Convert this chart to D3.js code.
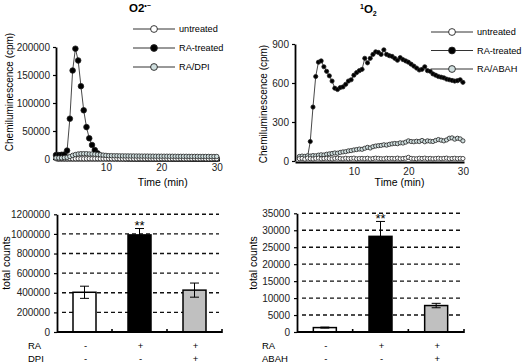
<!DOCTYPE html>
<html>
<head>
<meta charset="utf-8">
<script src="https://cdn.jsdelivr.net/npm/d3@7.9.0/dist/d3.min.js"></script>
<style>
body { margin: 0; background: #fff; }
svg { font-family: "Liberation Sans", Arial, sans-serif; }
</style>
</head>
<body>
<svg id="fig" width="523" height="364"></svg>
<script>
// ---- data ----
const seriesNames = ['untreated', 'RA-treated', 'RA/DPI'];
const seriesNames2 = ['untreated', 'RA-treated', 'RA/ABAH'];

// superoxide kinetics, every 0.5 min from 1 to 30 min
const o2Time = d3.range(1, 30.01, 0.5);
const o2Untreated = [600,500,600,500,400,600,500,500,600,500,400,500,600,500,500,600,500,400,500,600,
  500,500,600,400,500,500,600,500,500,400,600,500,500,600,500,400,500,500,600,500,
  500,400,600,500,500,600,500,500,400,500,600,500,500,600,400,500,500,600,500];
const o2RA = [7000,7000,7500,8000,15000,72000,158000,197000,176000,130000,87000,57000,37000,25000,16000,10000,6000,4000,3000,2000,
  1800,1600,1500,1400,1300,1200,1200,1100,1100,1000,1000,1000,900,900,900,900,800,800,800,800,
  800,800,700,700,700,700,700,700,700,600,600,600,600,600,600,600,600,600,600];
const o2DPI = [2000,2000,2000,2500,3000,4500,6500,8000,9000,9500,9500,9500,9000,9000,8500,8000,7500,7000,6500,6000,
  6000,5800,5800,5600,5600,5500,5500,5400,5400,5300,5300,5200,5200,5200,5100,5100,5000,5000,5000,5000,
  5000,4900,4900,4900,4800,4800,4800,4800,4700,4700,4700,4700,4600,4600,4600,4600,4500,4500,4500];

// singlet oxygen kinetics, every 0.5 min from 0 to 30 min
const sTime = d3.range(0, 30.01, 0.5);
const sUntreated = [18,20,15,22,18,16,20,22,17,19,21,18,16,20,22,19,17,21,18,20,
  22,17,19,20,18,21,16,19,22,20,18,17,21,19,20,18,22,17,19,21,
  28,20,18,17,21,19,22,18,20,17,19,21,18,20,22,17,19,21,18,20,19];
const sRA = [25,25,25,30,150,415,650,760,770,725,690,655,615,560,550,565,570,590,615,625,
  660,680,695,705,790,755,790,820,840,835,820,855,820,810,805,790,775,795,780,770,
  760,745,730,715,700,705,725,695,690,670,660,650,645,640,630,625,620,615,618,625,605];
const sABAH = [35,38,36,40,38,42,40,45,48,46,52,55,58,62,60,66,70,72,78,80,
  85,88,92,90,98,105,100,110,115,118,120,125,122,128,132,135,133,140,138,145,
  155,150,148,152,150,158,148,155,152,150,158,165,160,155,162,175,178,168,175,170,155];

// total counts (mean, error)
const o2Totals = [405000, 990000, 427000];
const o2Errors = [62000, 65000, 72000];
const sTotals = [1300, 28200, 7800];
const sErrors = [150, 4400, 650];

const raRow = ['-', '+', '+'];
const dpiRow = ['-', '-', '+'];
const abahRow = ['-', '-', '+'];

const o2YTicks = [0, 50000, 100000, 150000, 200000];
const sYTicks = [0, 300, 600, 900];
const timeTicks = [10, 20, 30];
const o2BarTicks = [0, 200000, 400000, 600000, 800000, 1000000, 1200000];
const sBarTicks = [0, 5000, 10000, 15000, 20000, 25000, 30000, 35000];

// ---- drawing ----
const svg = d3.select('#fig');
const markerFill = ['#ffffff', '#000000', '#cfdede'];
const barFill = ['#ffffff', '#000000', '#c0c0c0'];

function styleAxis(sel) {
    sel.select('.domain').attr('stroke', '#000').attr('stroke-width', 1.8);
    sel.selectAll('.tick line').attr('stroke', '#000').attr('stroke-width', 1.2);
    sel.selectAll('.tick text').attr('font-size', 10).attr('fill', '#222')
        .attr('font-family', '"Liberation Sans", Arial, sans-serif');
}

function drawKinetics(cfg) {
    const g = svg.append('g');
    const x = d3.scaleLinear().domain(cfg.xDomain).range(cfg.xRange);
    const y = d3.scaleLinear().domain(cfg.yDomain).range(cfg.yRange);

    g.append('g')
        .attr('transform', `translate(${cfg.xRange[0]},0)`)
        .call(d3.axisLeft(y).tickValues(cfg.yTicks).tickSize(3).tickSizeOuter(0).tickPadding(3).tickFormat(d3.format('d')))
        .call(styleAxis);

    g.append('g')
        .attr('transform', `translate(0,${cfg.axisY})`)
        .call(d3.axisBottom(x).tickValues(timeTicks).tickSize(0).tickSizeOuter(0).tickPadding(cfg.xPad))
        .call(styleAxis);

    const line = d3.line().x((d, i) => x(cfg.time[i])).y(d => y(d));

    cfg.order.forEach(k => {
        const vals = cfg.series[k];
        g.append('path').datum(vals)
            .attr('d', line)
            .attr('fill', 'none')
            .attr('stroke', '#333')
            .attr('stroke-width', 0.9);
        g.selectAll(null).data(vals).enter().append('circle')
            .attr('cx', (d, i) => x(cfg.time[i]))
            .attr('cy', d => y(d))
            .attr('r', k === 1 ? cfg.rFilled : cfg.rOpen)
            .attr('fill', markerFill[k])
            .attr('stroke', '#222')
            .attr('stroke-width', 0.8);
    });

    // axis titles
    g.append('text')
        .attr('x', (cfg.xRange[0] + cfg.xRange[1]) / 2 + cfg.xLabelShift)
        .attr('y', cfg.xLabelY)
        .attr('text-anchor', 'middle')
        .attr('font-size', 10.5)
        .text('Time (min)');
    g.append('text')
        .attr('transform', `translate(${cfg.yLabelX},${cfg.yLabelY}) rotate(-90)`)
        .attr('text-anchor', 'middle')
        .attr('font-size', 10)
        .text('Chemiluminescence (cpm)');

    // legend
    cfg.names.forEach((name, i) => {
        const ly = cfg.legendY + i * cfg.legendStep;
        g.append('line')
            .attr('x1', cfg.legendX).attr('x2', cfg.legendX + 42)
            .attr('y1', ly).attr('y2', ly)
            .attr('stroke', '#333').attr('stroke-width', 1);
        g.append('circle')
            .attr('cx', cfg.legendX + 21).attr('cy', ly).attr('r', 3.4)
            .attr('fill', markerFill[i]).attr('stroke', '#222').attr('stroke-width', 0.9);
        g.append('text')
            .attr('x', cfg.legendX + 46).attr('y', ly + 3.3)
            .attr('font-size', 9.2)
            .text(name);
    });
}

drawKinetics({
    time: o2Time,
    series: [o2Untreated, o2RA, o2DPI],
    order: [1, 0, 2],
    names: seriesNames,
    xDomain: [1, 30.5], xRange: [56, 219.5],
    yDomain: [0, 200000], yRange: [159, 47],
    yTicks: o2YTicks, axisY: 160, xPad: 4,
    rFilled: 2.8, rOpen: 2.2,
    xLabelShift: 25, xLabelY: 186,
    yLabelX: 13, yLabelY: 92,
    legendX: 133, legendY: 29, legendStep: 19
});

drawKinetics({
    time: sTime,
    series: [sUntreated, sRA, sABAH],
    order: [1, 2, 0],
    names: seriesNames2,
    xDomain: [-0.8, 30.2], xRange: [295, 464],
    yDomain: [0, 900], yRange: [161, 44],
    yTicks: sYTicks, axisY: 162, xPad: 6,
    rFilled: 2.1, rOpen: 2.1,
    xLabelShift: 20, xLabelY: 186,
    yLabelX: 267, yLabelY: 104,
    legendX: 431, legendY: 32, legendStep: 18.5
});

// titles
const t1 = svg.append('text').attr('x', 129).attr('y', 12)
    .attr('font-size', 11.5).attr('font-weight', 'bold');
t1.append('tspan').text('O2');
t1.append('tspan').attr('font-size', 7).attr('dy', -4).text('•−');

const t2 = svg.append('text').attr('x', 360).attr('y', 13)
    .attr('font-size', 11.5).attr('font-weight', 'bold');
t2.append('tspan').attr('font-size', 7).attr('dy', -4).text('1');
t2.append('tspan').attr('dy', 4).text('O');
t2.append('tspan').attr('font-size', 7).attr('dy', 3).text('2');

function drawBars(cfg) {
    const g = svg.append('g');
    const x = d3.scaleBand().domain(d3.range(cfg.totals.length)).range([cfg.x0, cfg.x1]);
    const y = d3.scaleLinear().domain(cfg.yDomain).range(cfg.yRange);
    const bw = 23;

    // dashed grid
    g.selectAll(null).data(cfg.ticks.filter(d => d > 0)).enter().append('line')
        .attr('x1', cfg.x0 + 5).attr('x2', cfg.x1 - 3)
        .attr('y1', d => y(d)).attr('y2', d => y(d))
        .attr('stroke', '#111').attr('stroke-width', 1.4)
        .attr('stroke-dasharray', '4,3');

    g.append('g')
        .attr('transform', `translate(${cfg.x0},0)`)
        .call(d3.axisLeft(y).tickValues(cfg.ticks).tickSize(3).tickSizeOuter(0).tickPadding(4).tickFormat(d3.format('d')))
        .call(styleAxis);

    // bars
    g.selectAll(null).data(cfg.totals).enter().append('rect')
        .attr('x', (d, i) => x(i) + x.bandwidth() / 2 - bw / 2)
        .attr('y', d => y(d))
        .attr('width', bw)
        .attr('height', d => y(0) - y(d))
        .attr('fill', (d, i) => barFill[i])
        .attr('stroke', '#000').attr('stroke-width', 1.5);

    // error bars
    cfg.totals.forEach((d, i) => {
        const cx = x(i) + x.bandwidth() / 2;
        const e = cfg.errors[i];
        g.append('line').attr('x1', cx).attr('x2', cx)
            .attr('y1', y(d - e)).attr('y2', y(d + e))
            .attr('stroke', '#000').attr('stroke-width', 1);
        [d - e, d + e].forEach(v => {
            g.append('line').attr('x1', cx - 4.5).attr('x2', cx + 4.5)
                .attr('y1', y(v)).attr('y2', y(v))
                .attr('stroke', '#000').attr('stroke-width', 1);
        });
    });

    // x axis with ticks at band edges
    g.append('line').attr('x1', cfg.x0).attr('x2', cfg.x1)
        .attr('y1', y(0)).attr('y2', y(0))
        .attr('stroke', '#000').attr('stroke-width', 1.8);
    g.selectAll(null).data(d3.range(1, cfg.totals.length + 1)).enter().append('line')
        .attr('x1', i => i < cfg.totals.length ? x(i) : cfg.x1)
        .attr('x2', i => i < cfg.totals.length ? x(i) : cfg.x1)
        .attr('y1', y(0) - 3).attr('y2', y(0) + 1)
        .attr('stroke', '#000').attr('stroke-width', 1.6);

    // significance
    g.append('text')
        .attr('x', x(1) + x.bandwidth() / 2)
        .attr('y', y(cfg.totals[1] + cfg.errors[1]) + cfg.starDy)
        .attr('text-anchor', 'middle')
        .attr('font-size', 13)
        .text('**');

    g.append('text')
        .attr('transform', `translate(${cfg.yLabelX},263) rotate(-90)`)
        .attr('text-anchor', 'middle')
        .attr('font-size', 10.5)
        .text('total counts');

    // condition rows
    cfg.rows.forEach((row, r) => {
        const ry = 349 + r * 12.5;
        g.append('text').attr('x', cfg.rowLabelX).attr('y', ry)
            .attr('font-size', 9.5).text(cfg.rowNames[r]);
        g.selectAll(null).data(row).enter().append('text')
            .attr('x', (d, i) => x(i) + x.bandwidth() / 2 + 1)
            .attr('y', ry)
            .attr('text-anchor', 'middle')
            .attr('font-size', 9.5)
            .text(d => d);
    });
}

drawBars({
    totals: o2Totals, errors: o2Errors,
    x0: 57, x1: 222,
    yDomain: [0, 1200000], yRange: [332, 214.3],
    ticks: o2BarTicks,
    yLabelX: 10, starDy: 1,
    rows: [raRow, dpiRow], rowNames: ['RA', 'DPI'], rowLabelX: 28
});

drawBars({
    totals: sTotals, errors: sErrors,
    x0: 297, x1: 464,
    yDomain: [0, 35000], yRange: [332, 213.3],
    ticks: sBarTicks,
    yLabelX: 257, starDy: 1.5,
    rows: [raRow, abahRow], rowNames: ['RA', 'ABAH'], rowLabelX: 262
});
</script>
</body>
</html>
